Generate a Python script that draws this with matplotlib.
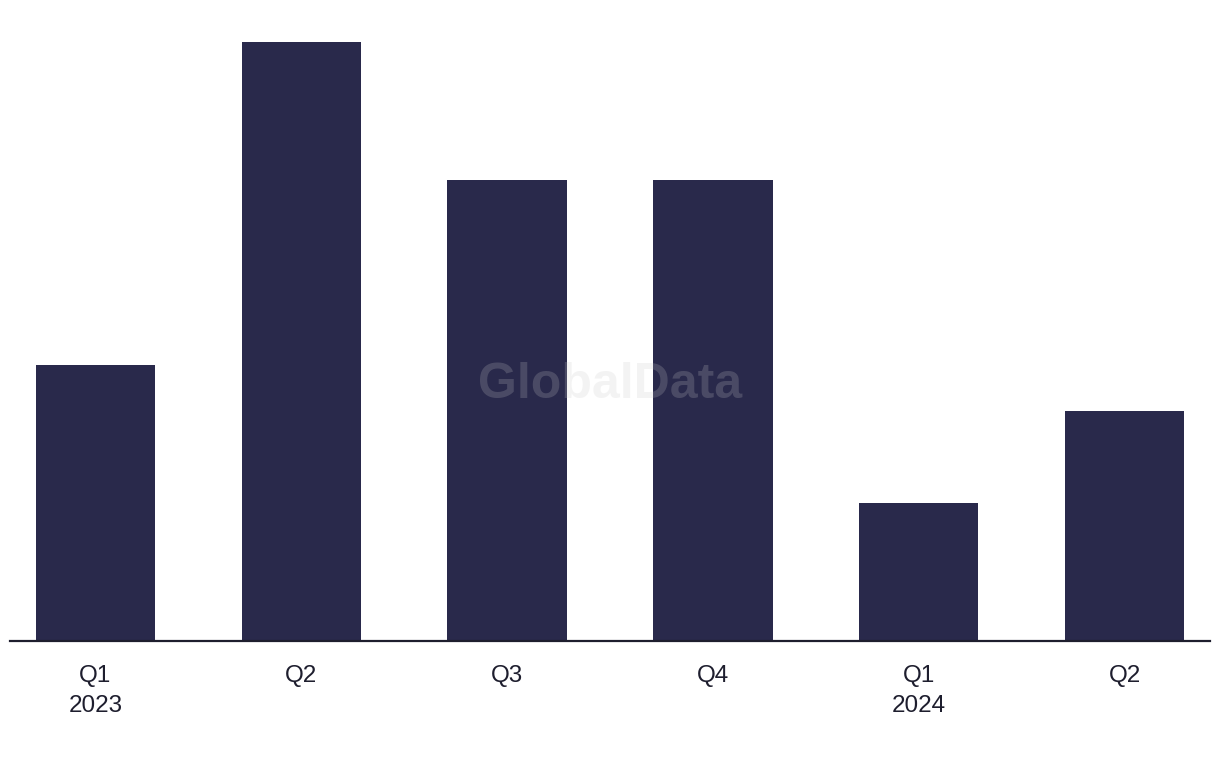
import numpy as np
import matplotlib
matplotlib.use("Agg")
import matplotlib.pyplot as plt

quarters = ["Q1\n2023", "Q2", "Q3", "Q4", "Q1\n2024", "Q2"]
deals = [6, 13, 10, 10, 3, 5]
BAR_C = "#29294b"

plt.rcParams["font.family"] = ["Liberation Sans", "DejaVu Sans"]

fig = plt.figure(figsize=(12.2, 7.68), dpi=100)
ax = fig.add_axes([10 / 1220, 1 - 641 / 768, 1200 / 1220, (641 - 42) / 768])
x = np.arange(len(deals))
ax.bar(x, deals, width=0.58, color=BAR_C, zorder=2)
ax.set_xlim(-0.415, 5.415)
ax.set_ylim(0, 13)
ax.set_xticks(x)
ax.set_xticklabels(quarters, fontsize=17.5, color="#1e1e2e", linespacing=1.5)
ax.tick_params(axis="x", length=0, pad=17)
ax.set_yticks([])
for s in ("top", "right", "left"):
    ax.spines[s].set_visible(False)
ax.spines["bottom"].set_linewidth(1.6)
ax.spines["bottom"].set_color("#1e1e2e")

fig.text(0.5, 1 - 385 / 768, "GlobalData", ha="center", va="center", fontsize=36,
         fontweight="bold", color="#c8c8c8", alpha=0.21, zorder=5)

fig.savefig("out.png", dpi=100)
